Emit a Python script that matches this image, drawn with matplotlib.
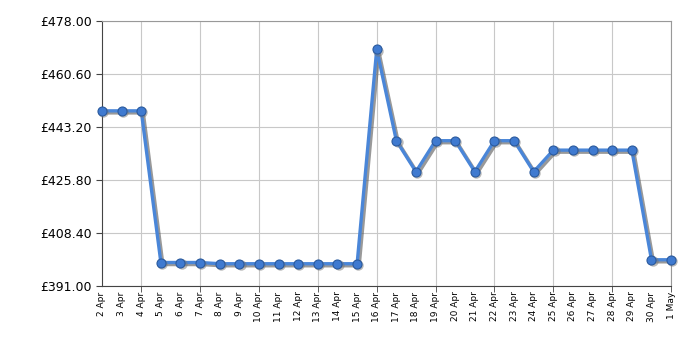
import matplotlib
matplotlib.use("Agg")
import matplotlib.pyplot as plt
import matplotlib.patheffects as pe

days = ["2 Apr", "3 Apr", "4 Apr", "5 Apr", "6 Apr", "7 Apr", "8 Apr", "9 Apr",
        "10 Apr", "11 Apr", "12 Apr", "13 Apr", "14 Apr", "15 Apr", "16 Apr",
        "17 Apr", "18 Apr", "19 Apr", "20 Apr", "21 Apr", "22 Apr", "23 Apr",
        "24 Apr", "25 Apr", "26 Apr", "27 Apr", "28 Apr", "29 Apr", "30 Apr", "1 May"]
prices = [448.5, 448.5, 448.5, 398.7, 398.7, 398.7, 398.3, 398.3,
          398.3, 398.3, 398.3, 398.3, 398.3, 398.3, 468.7,
          438.7, 428.5, 438.7, 438.7, 428.5, 438.7, 438.7,
          428.5, 435.6, 435.6, 435.6, 435.6, 435.6, 399.6, 399.6]
y_ticks = [391.00, 408.40, 425.80, 443.20, 460.60, 478.00]

fig = plt.figure(figsize=(7, 3.5), dpi=100)
ax = fig.add_axes([0.1457, 0.183, 0.813, 0.757])

x = list(range(len(days)))
shadow = [pe.SimpleLineShadow(offset=(1.5, -1.5), shadow_color="#555555", alpha=0.6), pe.Normal()]
ax.plot(x, prices, color="#4a86d8", lw=2.4, path_effects=shadow, zorder=3, clip_on=False)
# markers drawn separately so their shadow stays a soft dot
ax.plot(x, prices, ls="none", marker="o", ms=7.5, mfc="#777777", mec="none",
        alpha=0.5, transform=ax.transData + matplotlib.transforms.ScaledTranslation(1.2 / 100, -1.2 / 100, fig.dpi_scale_trans),
        zorder=4, clip_on=False)
ax.plot(x, prices, ls="none", marker="o", ms=6.5, mfc="#3f7ad0", mec="#2a5a9e",
        mew=0.8, zorder=5, clip_on=False)

ax.set_xlim(0, len(days) - 1)
ax.set_ylim(y_ticks[0], y_ticks[-1])
ax.set_yticks(y_ticks)
ax.set_yticklabels(["£%.2f" % v for v in y_ticks], fontsize=9)

ax.xaxis.remove_overlapping_locs = False
ax.set_xticks(x)
ax.set_xticklabels(days, rotation=90, fontsize=6.5)
ax.tick_params(axis="x", which="major", length=0, pad=4)
ax.set_xticks(x[2::3], minor=True)
ax.tick_params(axis="x", which="minor", length=4, color="#444444")
ax.tick_params(axis="y", length=4, color="#444444")

ax.grid(axis="y", color="#c8c8c8", lw=0.8)
ax.grid(axis="x", which="minor", color="#c8c8c8", lw=0.8)
ax.set_axisbelow(True)
for s in ax.spines.values():
    s.set_color("#999999")
ax.spines["left"].set_color("#444444")
ax.spines["bottom"].set_color("#444444")

fig.savefig("out.png", dpi=100)
